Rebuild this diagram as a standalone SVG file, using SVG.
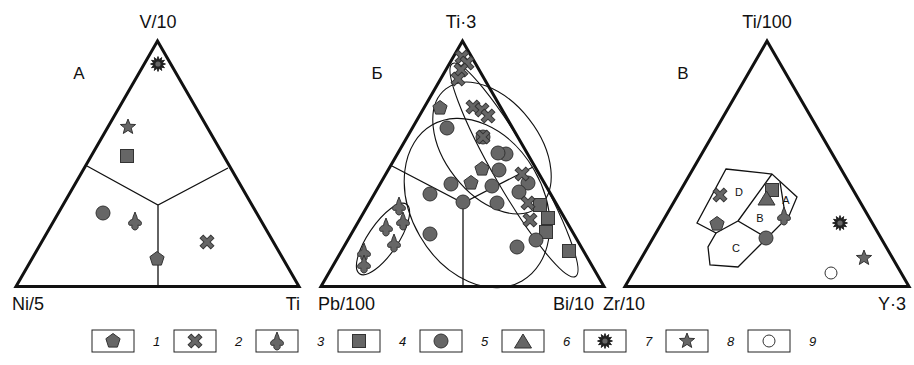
<svg xmlns="http://www.w3.org/2000/svg" xmlns:xlink="http://www.w3.org/1999/xlink" width="914" height="365" viewBox="0 0 914 365">
<style>
.tri{fill:none;stroke:#111;stroke-width:3;stroke-linejoin:miter}
.ln{fill:none;stroke:#111;stroke-width:1.3}
.el{fill:none;stroke:#111;stroke-width:1.1}
.sym{fill:#666;stroke:#333;stroke-width:1}
.dk{fill:#222;stroke:#111;stroke-width:0.8}
.lab{font-family:"Liberation Sans",Arial,sans-serif;font-size:18px;fill:#111}
.let{font-family:"Liberation Sans",Arial,sans-serif;font-size:17px;fill:#111}
.rg{font-family:"Liberation Sans",Arial,sans-serif;font-size:11px;fill:#111}
.box{fill:#fff;stroke:#222;stroke-width:1}
.num{font-family:"Liberation Sans",Arial,sans-serif;font-style:italic;font-size:13px;fill:#111}
</style>
<defs>
<polygon id="s1" class="sym" points="0,-7.5 7.1,-2.3 4.4,6.1 -4.4,6.1 -7.1,-2.3"/>
<polygon id="s2" class="sym" transform="rotate(45)" points="-2.2,-7.5 2.2,-7.5 2.2,-2.2 7.5,-2.2 7.5,2.2 2.2,2.2 2.2,7.5 -2.2,7.5 -2.2,2.2 -7.5,2.2 -7.5,-2.2 -2.2,-2.2"/>
<path id="s3" class="sym" d="M0,-10 C1,-7 2.4,-5 2.4,-2.5 C4.5,-2.5 6.5,-0.5 6.5,1.5 C6.5,3.5 4.5,3.8 2.8,3 C3.8,4.8 3.2,7.5 0,8 C-3.2,7.5 -3.8,4.8 -2.8,3 C-4.5,3.8 -6.5,3.5 -6.5,1.5 C-6.5,-0.5 -4.5,-2.5 -2.4,-2.5 C-2.4,-5 -1,-7 0,-10 Z"/>
<rect id="s4" class="sym" x="-6.5" y="-6.5" width="13" height="13"/>
<circle id="s5" class="sym" r="7"/>
<polygon id="s6" class="sym" points="0,-8 8.5,6 -8.5,6"/>
<g id="s7"><polygon class="dk" points="7.5,0 4.35,1.16 6.5,3.75 3.18,3.18 3.75,6.5 1.16,4.35 0,7.5 -1.16,4.35 -3.75,6.5 -3.18,3.18 -6.5,3.75 -4.35,1.16 -7.5,0 -4.35,-1.16 -6.5,-3.75 -3.18,-3.18 -3.75,-6.5 -1.16,-4.35 0,-7.5 1.16,-4.35 3.75,-6.5 3.18,-3.18 6.5,-3.75 4.35,-1.16"/><circle r="2.6" fill="#666"/></g>
<polygon id="s8" class="sym" points="0,-8 2,-2.75 7.61,-2.47 3.23,1.05 4.7,6.47 0,3.4 -4.7,6.47 -3.23,1.05 -7.61,-2.47 -2,-2.75"/>
<circle id="s9" r="6" fill="#fff" stroke="#333" stroke-width="1"/>
</defs>

<g id="diagramA">
<polygon class="tri" points="16,286.5 299,286.5 157.5,41"/>
<path class="ln" d="M87,166 L158,205 L228,168 M158,205 L158,286"/>
<text class="lab" x="158" y="28" text-anchor="middle">V/10</text>
<text class="lab" x="12" y="310">Ni/5</text>
<text class="lab" x="300" y="310" text-anchor="end">Ti</text>
<text class="let" x="79" y="79" text-anchor="middle">А</text>
<use href="#s7" x="158" y="64"/>
<use href="#s8" x="128" y="127"/>
<use href="#s4" x="127" y="156"/>
<use href="#s5" x="103" y="213"/>
<use href="#s3" x="135" y="222"/>
<use href="#s2" x="207" y="242"/>
<use href="#s1" x="157" y="259"/>
</g>

<g id="diagramB">
<polygon class="tri" points="321,286.5 604,286.5 462.5,41"/>
<path class="ln" d="M392,166 L463,203 L533,167 M463,203 L463,286"/>
<g id="ellipses">
<ellipse class="el" cx="383" cy="239" rx="42" ry="15" transform="rotate(-56 383 239)"/>
<ellipse class="el" cx="477" cy="203" rx="90" ry="66" transform="rotate(60 477 203)"/>
<ellipse class="el" cx="492" cy="148" rx="75" ry="47" transform="rotate(52 492 148)"/>
<ellipse class="el" cx="514" cy="170" rx="123" ry="20" transform="rotate(60 514 170)"/>
</g>
<text class="lab" x="461" y="28" text-anchor="middle">Ti·3</text>
<text class="lab" x="318" y="310">Pb/100</text>
<text class="lab" x="594" y="310" text-anchor="end">Bi/10</text>
<text class="let" x="377" y="79" text-anchor="middle">Б</text>
<use href="#s2" x="462" y="57"/>
<use href="#s2" x="467" y="63"/>
<use href="#s2" x="461" y="70"/>
<use href="#s2" x="458" y="79"/>
<use href="#s1" x="440" y="108"/>
<use href="#s2" x="473" y="107"/>
<use href="#s2" x="482" y="110"/>
<use href="#s2" x="488" y="116"/>
<use href="#s5" x="447" y="128"/>
<use href="#s5" x="483" y="137"/>
<use href="#s2" x="483" y="137"/>
<use href="#s5" x="506" y="154"/>
<use href="#s5" x="498" y="153"/>
<use href="#s1" x="482" y="169"/>
<use href="#s5" x="499" y="170"/>
<use href="#s5" x="528" y="183"/>
<use href="#s2" x="522" y="174"/>
<use href="#s5" x="451" y="184"/>
<use href="#s1" x="471" y="183"/>
<use href="#s5" x="492" y="186"/>
<use href="#s5" x="519" y="192"/>
<use href="#s5" x="430" y="194"/>
<use href="#s5" x="463" y="202"/>
<use href="#s5" x="497" y="203"/>
<use href="#s4" x="540" y="205"/>
<use href="#s2" x="528" y="203"/>
<use href="#s4" x="548" y="218"/>
<use href="#s2" x="530" y="220"/>
<use href="#s4" x="546" y="232"/>
<use href="#s5" x="430" y="234"/>
<use href="#s5" x="536" y="240"/>
<use href="#s5" x="517" y="247"/>
<use href="#s4" x="569" y="251"/>
<use href="#s3" x="399" y="207"/>
<use href="#s3" x="403" y="222"/>
<use href="#s3" x="386" y="228"/>
<use href="#s3" x="394" y="244"/>
<use href="#s3" x="364" y="253"/>
<use href="#s3" x="364" y="265"/>
</g>

<g id="diagramV">
<polygon class="tri" points="625,286.5 909,286.5 767,41"/>
<g id="fields">
<polygon class="ln" points="726,169 772,174 797,197 789,216 767,238 738,267 710,265 708,247 716,233 697,223"/>
<path class="ln" d="M772,174 L738,221 M716,233 L738,221 L767,238 M780,182 L786,220"/>
</g>
<text class="lab" x="767" y="28" text-anchor="middle">Ti/100</text>
<text class="lab" x="603" y="310">Zr/10</text>
<text class="lab" x="906" y="310" text-anchor="end">Y·3</text>
<text class="let" x="683" y="79" text-anchor="middle">В</text>
<text class="rg" x="739" y="196" text-anchor="middle">D</text>
<text class="rg" x="786" y="204" text-anchor="middle">A</text>
<text class="rg" x="760" y="222" text-anchor="middle">B</text>
<text class="rg" x="736" y="252" text-anchor="middle">C</text>
<use href="#s2" x="720" y="195"/>
<use href="#s4" x="772" y="190"/>
<use href="#s6" x="766.5" y="199"/>
<use href="#s3" x="784" y="217"/>
<use href="#s1" x="717" y="224"/>
<use href="#s5" x="766" y="238"/>
<use href="#s7" x="840" y="223"/>
<use href="#s8" x="864" y="258"/>
<use href="#s9" x="831" y="273"/>
</g>

<g id="legend">
<rect class="box" x="92" y="330" width="42" height="22"/><use href="#s1" x="113" y="341"/><text class="num" x="153" y="346">1</text>
<rect class="box" x="174" y="330" width="42" height="22"/><use href="#s2" x="195" y="341"/><text class="num" x="235" y="346">2</text>
<rect class="box" x="256" y="330" width="42" height="22"/><use href="#s3" x="277" y="342"/><text class="num" x="317" y="346">3</text>
<rect class="box" x="338" y="330" width="42" height="22"/><use href="#s4" x="359" y="341"/><text class="num" x="399" y="346">4</text>
<rect class="box" x="420" y="330" width="42" height="22"/><use href="#s5" x="441" y="341"/><text class="num" x="481" y="346">5</text>
<rect class="box" x="502" y="330" width="42" height="22"/><use href="#s6" x="523" y="342"/><text class="num" x="563" y="346">6</text>
<rect class="box" x="584" y="330" width="42" height="22"/><use href="#s7" x="605" y="341"/><text class="num" x="645" y="346">7</text>
<rect class="box" x="666" y="330" width="42" height="22"/><use href="#s8" x="687" y="341"/><text class="num" x="727" y="346">8</text>
<rect class="box" x="748" y="330" width="42" height="22"/><use href="#s9" x="769" y="341"/><text class="num" x="809" y="346">9</text>
</g>
</svg>
